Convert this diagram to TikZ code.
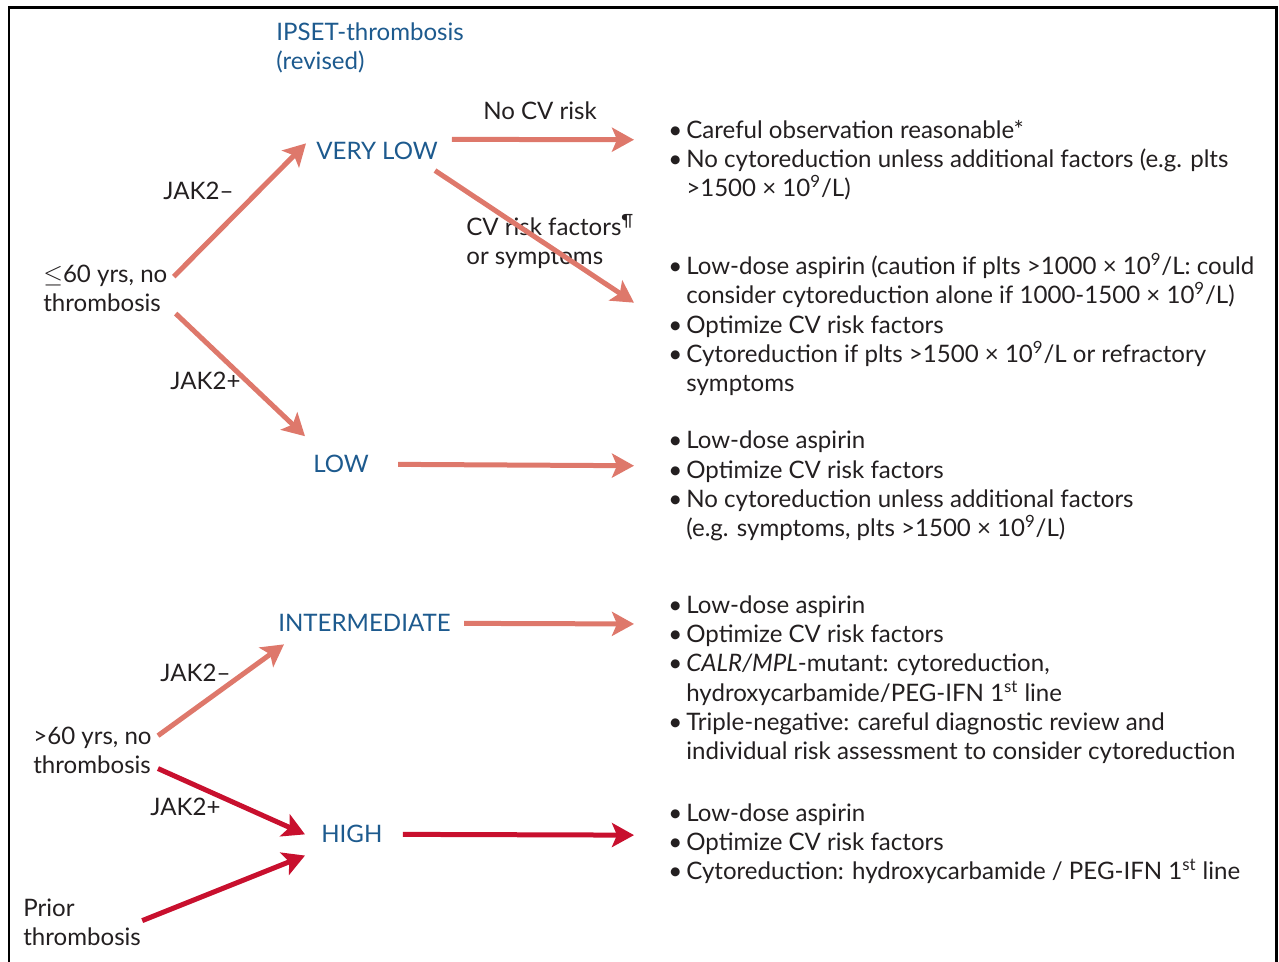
\documentclass[tikz,border=0pt]{standalone}
\usepackage{fontspec}
\setmainfont{Lato}
\usetikzlibrary{arrows.meta,positioning,calc}
\definecolor{riskblue}{HTML}{1D5A8E}
\definecolor{flowsalmon}{HTML}{DE786B}
\definecolor{flowred}{HTML}{C8102E}
\definecolor{textdark}{HTML}{231F20}
\newcommand{\diagfont}{\fontsize{13.7}{16.73}\selectfont}
\newcommand{\bul}{\makebox[0.36cm][l]{\textbullet}}
\newcommand{\bulgap}{\hspace*{0.36cm}}

\begin{document}
\begin{tikzpicture}[x=0.02cm, y=-0.02cm,
    every node/.style={inner sep=0pt, font=\diagfont, text=textdark, anchor=base west, align=left},
    risk/.style={text=riskblue},
    flow/.style={line width=0.1cm, -{Stealth[length=0.44cm, width=0.48cm, inset=0.1cm]}},
    lowflow/.style={flow, draw=flowsalmon},
    highflow/.style={flow, draw=flowred}]
    \useasboundingbox (0,0) rectangle (1279,962);
    % frame, open at the bottom
    \draw[line width=0.06cm] (9,962) -- (9,8) -- (1276,8) -- (1276,962);

    % multi-line nodes sit on the baseline of their last line
    \node[risk] (title) at (276,70) {IPSET-thrombosis\\(revised)};

    % patient groups
    \node (young) at (43,312) {\ensuremath{\leq}60 yrs, no\\thrombosis};
    \node (old) at (33,774) {>60 yrs, no\\thrombosis};
    \node (prior) at (23,946) {Prior\\thrombosis};

    % risk categories
    \node[risk] (vlow) at (316,160) {VERY LOW};
    \node[risk] (low) at (313,473) {LOW};
    \node[risk] (inter) at (278,632) {INTERMEDIATE};
    \node[risk] (high) at (321,843) {HIGH};

    % labels on the arrows
    \node (jakneg1) at (163,200) {JAK2--};
    \node (jakpos1) at (170,390) {JAK2+};
    \node (jakneg2) at (160,682) {JAK2--};
    \node (jakpos2) at (150,816) {JAK2+};
    \node (nocv) at (483,120) {No CV risk};
    \node (cvrisk) at (466,265) {CV risk factors\textsuperscript{\P}\\or symptoms};

    % recommendations
    \node (rec1) at (668,197) {%
        \bul Careful observation reasonable*\\
        \bul No cytoreduction unless additional factors (e.g. plts\\
        \bulgap >1500 × 10\textsuperscript{9}/L)};
    \node (rec2) at (668,392) {%
        \bul Low-dose aspirin (caution if plts >1000 × 10\textsuperscript{9}/L: could\\
        \bulgap consider cytoreduction alone if 1000-1500 × 10\textsuperscript{9}/L)\\
        \bul Optimize CV risk factors\\
        \bul Cytoreduction if plts >1500 × 10\textsuperscript{9}/L or refractory\\
        \bulgap symptoms};
    \node (rec3) at (668,537) {%
        \bul Low-dose aspirin\\
        \bul Optimize CV risk factors\\
        \bul No cytoreduction unless additional factors\\
        \bulgap (e.g. symptoms, plts >1500 × 10\textsuperscript{9}/L)};
    \node (rec4) at (668,760) {%
        \bul Low-dose aspirin\\
        \bul Optimize CV risk factors\\
        \bul \textit{CALR/MPL}-mutant: cytoreduction,\\
        \bulgap hydroxycarbamide/PEG-IFN 1\textsuperscript{st} line\\
        \bul Triple-negative: careful diagnostic review and\\
        \bulgap individual risk assessment to consider cytoreduction};
    \node (rec5) at (668,880) {%
        \bul Low-dose aspirin\\
        \bul Optimize CV risk factors\\
        \bul Cytoreduction: hydroxycarbamide / PEG-IFN 1\textsuperscript{st} line};

    % arrows
    \draw[lowflow] ([shift={(6,-12)}]young.east) -- ([shift={(-10,-8)}]vlow.west);
    \draw[lowflow] ([shift={(8,1)}]young.south east) -- ([shift={(-8,-19)}]low.north west);
    \draw[lowflow] ([shift={(14,-12)}]vlow.east) -- ([shift={(-34,20)}]rec1.north west);
    \draw[lowflow] ([shift={(-3,10)}]vlow.south east) -- ([shift={(-34,50)}]rec2.north west);
    \draw[lowflow] ([shift={(29,0)}]low.east) -- ([shift={(-34,35)}]rec3.north west);
    \draw[lowflow] ([shift={(13,0)}]inter.east) -- ([shift={(-34,29)}]rec4.north west);
    \draw[lowflow] ([shift={(6,-15)}]old.east) -- ([shift={(6,12)}]inter.south west);
    \draw[highflow] ([shift={(6,-6)}]old.south east) -- ([shift={(-16,0)}]high.west);
    \draw[highflow] ([shift={(1,-2)}]prior.east) -- ([shift={(-16,12)}]high.south west);
    \draw[highflow] ([shift={(20,0)}]high.east) -- ([shift={(-34,32)}]rec5.north west);
\end{tikzpicture}
\end{document}
